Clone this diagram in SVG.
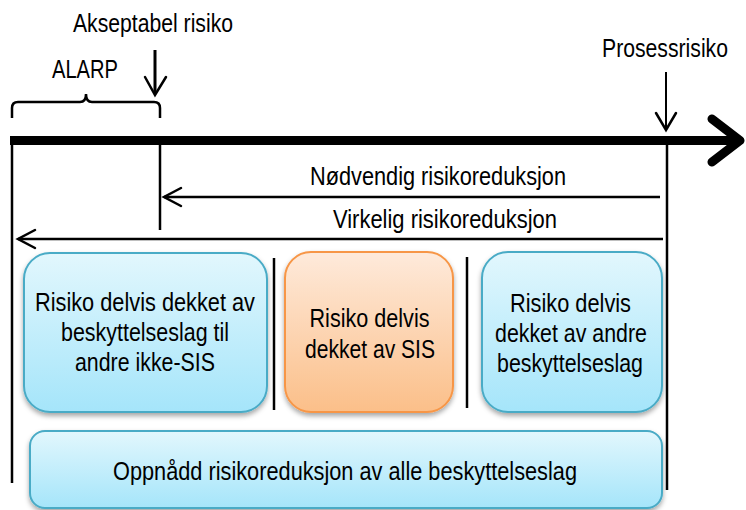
<svg xmlns="http://www.w3.org/2000/svg" width="746" height="510" viewBox="0 0 746 510">
  <style>
    text { font-family: "Liberation Sans", Arial, sans-serif; font-size: 25px; fill: #000; text-anchor: middle; }
    .thin { fill: none; stroke: #000; stroke-width: 2.5; }
    .head { fill: none; stroke: #000; stroke-width: 2.5; stroke-linecap: round; stroke-linejoin: miter; }
    .blue { fill: url(#gBlue); stroke: #4aabc6; stroke-width: 2; filter: url(#shadow); }
    .orange { fill: url(#gOrange); stroke: #f79646; stroke-width: 2; filter: url(#shadow); }
  </style>
  <defs>
    <linearGradient id="gBlue" x1="0" y1="0" x2="0" y2="1">
      <stop offset="0" stop-color="#e2f7fd"/>
      <stop offset="1" stop-color="#a5e5fa"/>
    </linearGradient>
    <linearGradient id="gOrange" x1="0" y1="0" x2="0" y2="1">
      <stop offset="0" stop-color="#feeadb"/>
      <stop offset="1" stop-color="#fbbf89"/>
    </linearGradient>
    <filter id="shadow" x="-10%" y="-10%" width="120%" height="130%">
      <feDropShadow dx="0" dy="3" stdDeviation="2.5" flood-color="#000" flood-opacity="0.35"/>
    </filter>
  </defs>

  <rect width="746" height="510" fill="#fff"/>

  <!-- risk axis -->
  <g id="axis">
    <line x1="10" y1="140.5" x2="736" y2="140.5" stroke="#000" stroke-width="9"/>
    <polyline points="712,119 740,140.5 712,162" fill="none" stroke="#000" stroke-width="9" stroke-linecap="round" stroke-linejoin="round"/>
  </g>

  <!-- markers, brace and reduction arrows -->
  <g id="connectors">
    <line class="thin" x1="12" y1="145" x2="12" y2="483"/>
    <line class="thin" x1="160" y1="145" x2="160" y2="230"/>
    <line class="thin" x1="667" y1="145" x2="667" y2="490"/>
    <line class="thin" x1="274" y1="258" x2="274" y2="410"/>
    <line class="thin" x1="467" y1="257" x2="467" y2="408"/>

    <!-- ALARP brace -->
    <path class="thin" stroke-width="2" d="M12,118 V108 Q12,102 18,102 H80 Q86,102 86,94 Q86,102 92,102 H154 Q160,102 160,108 V118"/>

    <!-- acceptable risk pointer -->
    <line x1="155" y1="50" x2="155" y2="93" stroke="#000" stroke-width="3"/>
    <polyline class="head" stroke-width="3" points="145,77 155,95 166,77"/>

    <!-- process risk pointer -->
    <line x1="666" y1="72" x2="666" y2="129" stroke="#000" stroke-width="2"/>
    <polyline class="head" stroke-width="2" points="656,113 666,130 676,113"/>

    <!-- required reduction -->
    <line class="thin" x1="164" y1="197" x2="660" y2="197"/>
    <polyline class="head" points="181,188 164,197 181,206"/>

    <!-- actual reduction -->
    <line class="thin" x1="18" y1="239" x2="663" y2="239"/>
    <polyline class="head" points="35,230 18,239 35,248"/>
  </g>

  <g id="labels">
    <text x="153" y="32" textLength="160" lengthAdjust="spacingAndGlyphs">Akseptabel risiko</text>
    <text x="85" y="78" textLength="66" lengthAdjust="spacingAndGlyphs">ALARP</text>
    <text x="665" y="57" textLength="126" lengthAdjust="spacingAndGlyphs">Prosessrisiko</text>
    <text x="438" y="185" textLength="256" lengthAdjust="spacingAndGlyphs">Nødvendig risikoreduksjon</text>
    <text x="445" y="228" textLength="224" lengthAdjust="spacingAndGlyphs">Virkelig risikoreduksjon</text>
  </g>

  <g id="node-other-layers">
    <rect class="blue" x="24" y="253" width="243" height="159" rx="26"/>
    <text x="145" y="311" textLength="220" lengthAdjust="spacingAndGlyphs">Risiko delvis dekket av</text>
    <text x="145" y="341" textLength="168" lengthAdjust="spacingAndGlyphs">beskyttelseslag til</text>
    <text x="145" y="371" textLength="140" lengthAdjust="spacingAndGlyphs">andre ikke-SIS</text>
  </g>

  <g id="node-sis">
    <rect class="orange" x="285" y="252" width="168" height="160" rx="26"/>
    <text x="369.5" y="327" textLength="120" lengthAdjust="spacingAndGlyphs">Risiko delvis</text>
    <text x="370" y="358" textLength="130" lengthAdjust="spacingAndGlyphs">dekket av SIS</text>
  </g>

  <g id="node-other-protection">
    <rect class="blue" x="482" y="252" width="180" height="160" rx="26"/>
    <text x="570.5" y="312" textLength="121" lengthAdjust="spacingAndGlyphs">Risiko delvis</text>
    <text x="571" y="342" textLength="152" lengthAdjust="spacingAndGlyphs">dekket av andre</text>
    <text x="570" y="372" textLength="146" lengthAdjust="spacingAndGlyphs">beskyttelseslag</text>
  </g>

  <g id="node-achieved">
    <rect class="blue" x="30" y="431" width="632" height="77" rx="15"/>
    <text x="345" y="480" textLength="464" lengthAdjust="spacingAndGlyphs">Oppnådd risikoreduksjon av alle beskyttelseslag</text>
  </g>
</svg>
